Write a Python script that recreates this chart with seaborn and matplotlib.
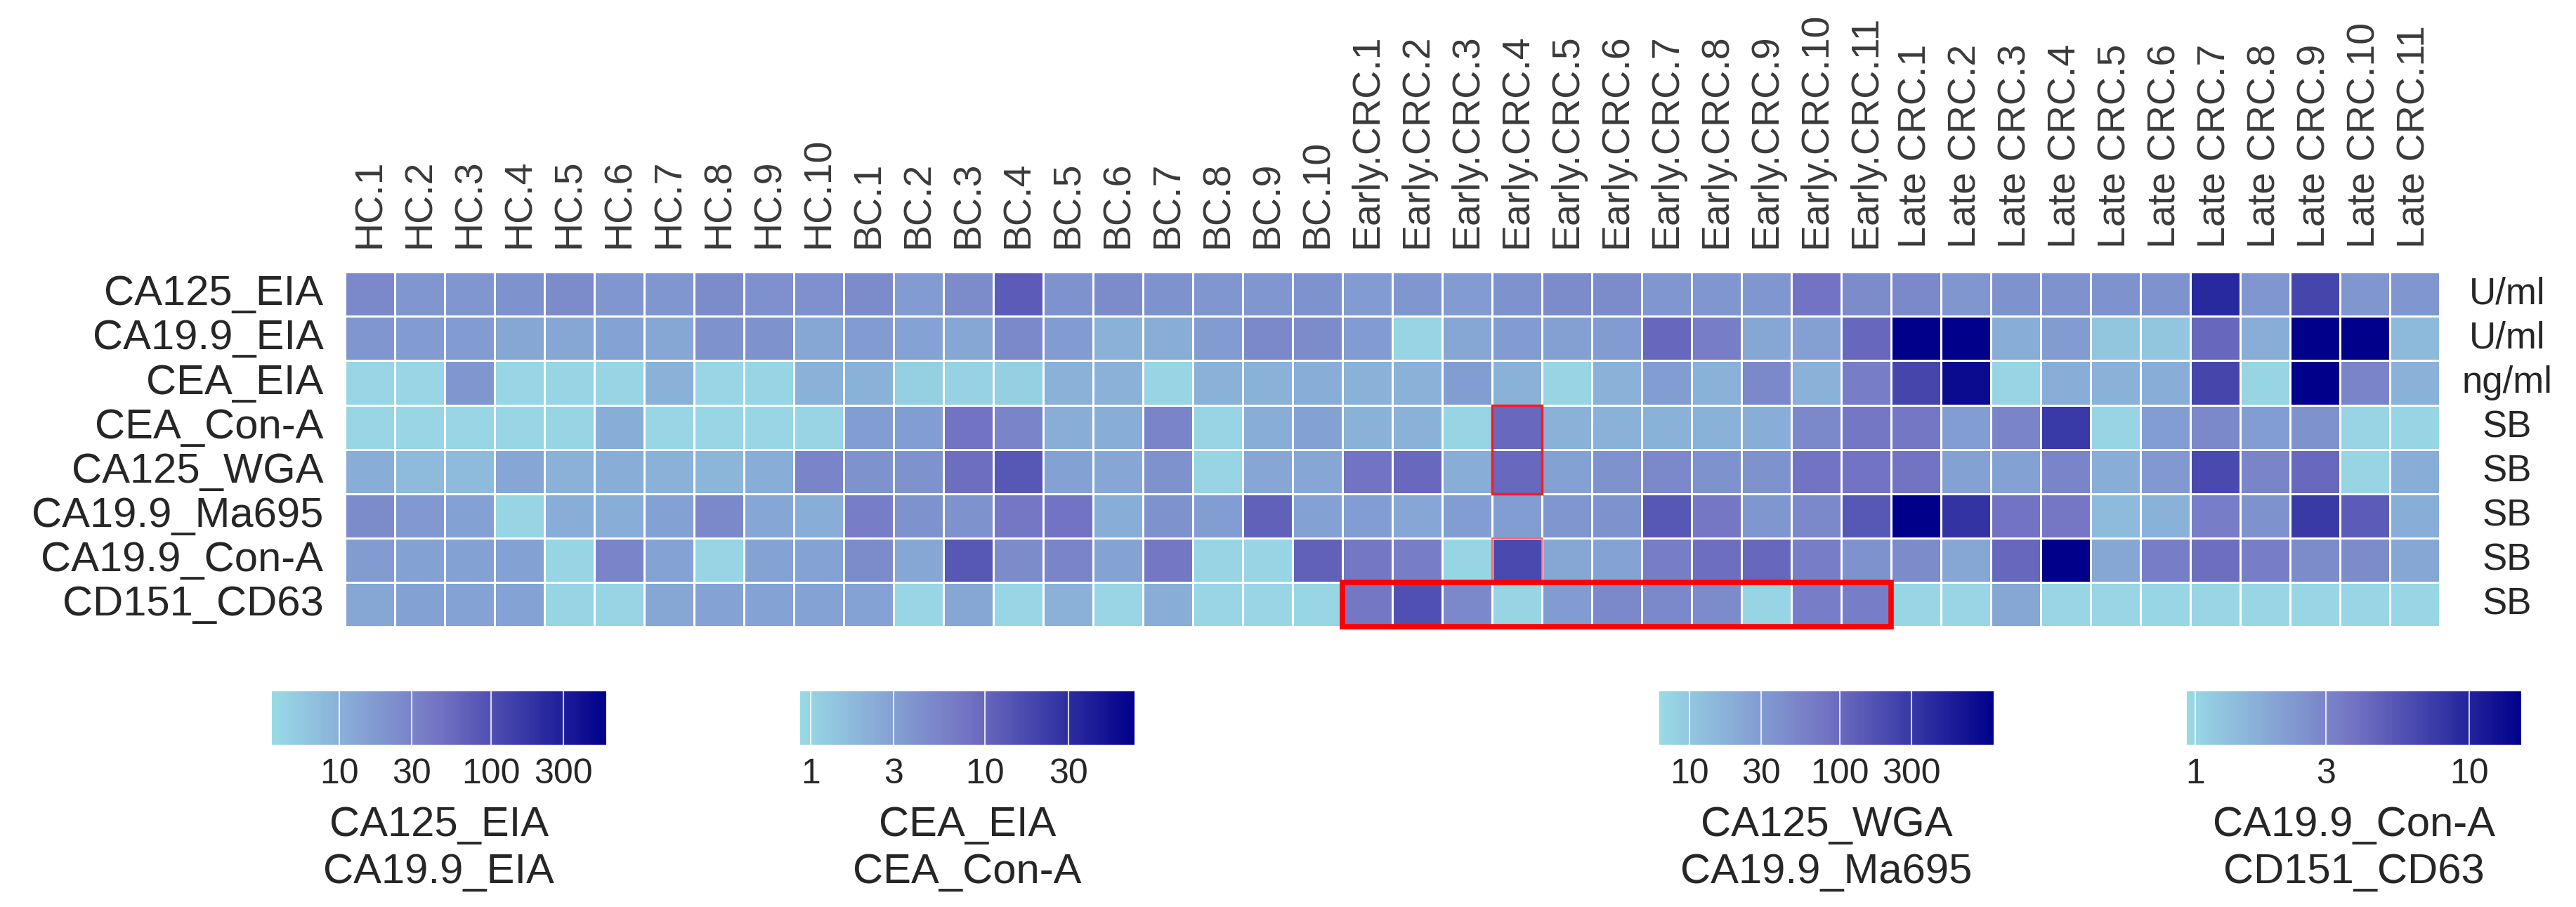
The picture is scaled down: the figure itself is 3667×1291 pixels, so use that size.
import numpy as np
import pandas as pd
import matplotlib
matplotlib.use('Agg')
import matplotlib.pyplot as plt
import matplotlib.colorbar as mcolorbar
import seaborn as sns
from matplotlib.colors import LinearSegmentedColormap, LogNorm
from matplotlib.patches import Rectangle
from matplotlib.ticker import NullLocator

# Configura lo stile
sns.set_style('white')
plt.rcParams['font.family'] = ['Liberation Sans', 'DejaVu Sans']

# Campioni (colonne)
samples = ([f'HC.{i}' for i in range(1, 11)] + [f'BC.{i}' for i in range(1, 11)]
           + [f'Early.CRC.{i}' for i in range(1, 12)] + [f'Late CRC.{i}' for i in range(1, 12)])

# Marcatori (righe) e unita'
markers = ['CA125_EIA', 'CA19.9_EIA', 'CEA_EIA', 'CEA_Con-A',
           'CA125_WGA', 'CA19.9_Ma695', 'CA19.9_Con-A', 'CD151_CD63']
units = ['U/ml', 'U/ml', 'ng/ml', 'SB', 'SB', 'SB', 'SB', 'SB']

# Valori stimati dalla figura (HC | BC | Early CRC | Late CRC)
ca125_eia = [27.5, 19.3, 19.3, 21.4, 24.9, 19.3, 19.3, 24.9, 22.5, 22.5,
             24.9, 16.6, 24.9, 75.9, 21.4, 24.9, 21.4, 19.3, 19.3, 21.4,
             16.6, 19.3, 16.6, 21.4, 24.9, 24.9, 19.3, 19.3, 19.3, 45.7, 24.9,
             27.5, 19.3, 21.4, 21.4, 21.4, 21.4, 231, 19.3, 126, 19.3, 19.3]
ca199_eia = [19.3, 16.6, 16.6, 12.9, 12.9, 14.3, 12.9, 21.4, 21.4, 12.9,
             16.6, 14.3, 12.9, 27.5, 16.6, 10.0, 11.0, 16.6, 27.5, 24.9,
             16.6, 4.2, 12.9, 16.6, 15.0, 16.6, 58.9, 35.5, 12.9, 15.0, 58.9,
             812, 1046, 11.0, 16.6, 6.0, 6.0, 58.9, 11.0, 968, 734, 7.8]
cea_eia = [0.95, 0.95, 3.75, 0.95, 1.0, 1.0, 2.11, 0.95, 1.0, 2.11,
           2.11, 1.09, 1.04, 1.09, 2.11, 2.11, 1.0, 2.11, 2.11, 2.3,
           2.11, 2.11, 3.28, 2.11, 1.0, 2.11, 3.28, 2.11, 5.1, 2.11, 6.37,
           19.2, 58.0, 1.0, 2.3, 2.11, 2.3, 19.2, 1.0, 85.0, 5.57, 2.11]
cea_cona = [0.95, 0.95, 0.95, 0.95, 1.0, 2.3, 0.95, 0.95, 0.95, 1.0,
            3.28, 3.28, 7.94, 5.57, 2.3, 2.3, 5.57, 1.0, 2.3, 3.0,
            2.11, 2.11, 1.0, 9.9, 2.11, 2.11, 2.11, 2.11, 2.3, 5.1, 7.28,
            7.28, 3.28, 5.57, 24.0, 1.0, 3.28, 5.1, 3.28, 4.09, 1.0, 1.0]
ca125_wga = [19.4, 13.6, 13.6, 22.6, 17.5, 19.4, 17.5, 15.8, 19.4, 54.0,
             37.8, 37.8, 90.0, 150, 26.4, 22.6, 37.8, 7.4, 22.6, 22.6,
             81.3, 105, 19.4, 105, 26.4, 37.8, 48.8, 37.8, 37.8, 81.3, 81.3,
             81.3, 26.4, 26.4, 54.0, 19.4, 32.4, 204, 54.0, 105, 7.4, 19.4]
ca199_ma695 = [44.0, 32.4, 26.4, 7.4, 19.4, 19.4, 26.4, 48.8, 22.6, 19.4,
               63.0, 37.8, 37.8, 73.5, 81.3, 19.4, 37.8, 29.2, 122, 26.4,
               29.2, 22.6, 29.2, 29.2, 34.1, 37.8, 150, 73.5, 34.1, 48.8, 150,
               1210, 340, 81.3, 73.5, 13.6, 17.5, 63.0, 37.8, 292, 136, 19.4]
ca199_cona = [2.17, 2.05, 2.05, 2.05, 1.02, 3.03, 1.99, 1.02, 1.99, 1.99,
              2.72, 1.88, 5.33, 2.72, 3.03, 1.99, 3.6, 1.02, 1.02, 4.76,
              3.6, 3.3, 1.02, 6.3, 1.88, 1.99, 3.3, 4.02, 4.38, 3.3, 2.49,
              2.72, 1.88, 4.38, 16.5, 1.88, 3.3, 4.02, 3.3, 2.72, 2.72, 1.88]
cd151_cd63 = [1.88, 2.05, 1.99, 1.99, 1.02, 1.02, 1.88, 1.99, 1.99, 1.99,
              1.99, 0.99, 1.88, 0.99, 1.64, 0.99, 1.73, 0.99, 0.99, 0.99,
              3.6, 5.79, 2.87, 1.02, 2.17, 2.87, 2.87, 2.72, 1.02, 3.3, 3.3,
              0.99, 0.99, 1.88, 0.99, 0.99, 0.99, 0.99, 0.99, 0.99, 0.99, 0.99]

# Gruppi di legenda: righe, limiti della scala, tick
legend_rows = [['CA125_EIA', 'CA19.9_EIA'], ['CEA_EIA', 'CEA_Con-A'],
               ['CA125_WGA', 'CA19.9_Ma695'], ['CA19.9_Con-A', 'CD151_CD63']]
legend_lims = [(3.6, 575), (0.87, 72), (6.3, 1050), (0.93, 15.5)]
legend_ticks = [[10, 30, 100, 300], [1, 3, 10, 30], [10, 30, 100, 300], [1, 3, 10]]

df = pd.DataFrame([ca125_eia, ca199_eia, cea_eia, cea_cona,
                   ca125_wga, ca199_ma695, ca199_cona, cd151_cd63],
                  index=markers, columns=samples)

cmap = LinearSegmentedColormap.from_list('ciano_blu', ['#99DAE6', '#7373C3', '#00008B'])

fig = plt.figure(figsize=(36.67, 12.91), dpi=100)
ax = fig.add_axes([0.1339, 0.309, 0.8132, 0.391])

# Una heatmap per ogni gruppo, con la sua scala logaritmica
for rows, (vmin, vmax) in zip(legend_rows, legend_lims):
    mask = ~df.index.isin(rows)
    mask_df = pd.DataFrame(np.repeat(mask[:, None], df.shape[1], axis=1),
                           index=df.index, columns=df.columns)
    sns.heatmap(df, mask=mask_df, cmap=cmap, norm=LogNorm(vmin=vmin, vmax=vmax, clip=True),
                cbar=False, linewidths=2, linecolor='white', ax=ax,
                xticklabels=True, yticklabels=True)

ax.set_xlabel('')
ax.set_ylabel('')
ax.xaxis.tick_top()
ax.tick_params(axis='x', length=0, pad=25, labelsize=40, labelcolor='#3a3a3a', rotation=90)
ax.tick_params(axis='y', length=0, pad=22, labelsize=43, rotation=0)

# Unita' a destra
for i, u in enumerate(units):
    ax.text(43.35, i + 0.5, u, ha='center', va='center', fontsize=38, clip_on=False)

# Riquadri rossi
ax.add_patch(Rectangle((23, 3), 1, 2, fill=False, edgecolor='#FF1A1A', lw=2.5, clip_on=False))
ax.add_patch(Rectangle((23, 6), 1, 1, fill=False, edgecolor='#FF6070', lw=1.5, clip_on=False))
ax.add_patch(Rectangle((20, 7), 11, 1, fill=False, edgecolor='#FF0000', lw=5.5, clip_on=False))

# Legende a barra
bar_left = [0.1055, 0.3106, 0.6441, 0.8489]
for left, rows, (vmin, vmax), ticks in zip(bar_left, legend_rows, legend_lims, legend_ticks):
    cax = fig.add_axes([left, 0.179, 0.1298, 0.0589])
    cb = mcolorbar.ColorbarBase(cax, cmap=cmap, norm=LogNorm(vmin=vmin, vmax=vmax),
                                orientation='horizontal')
    cb.outline.set_visible(False)
    cb.set_ticks(ticks)
    cb.set_ticklabels([str(t) for t in ticks])
    cax.xaxis.set_minor_locator(NullLocator())
    cax.tick_params(length=0, labelsize=36, pad=14)
    for t in ticks:
        cax.axvline(t, color='white', lw=1.5, alpha=0.8)
    cx = left + 0.1298 / 2
    fig.text(cx, 0.0899, rows[0], ha='center', va='center', fontsize=43)
    fig.text(cx, 0.038, rows[1], ha='center', va='center', fontsize=43)

fig.savefig('out.png', dpi=100, facecolor='white')
